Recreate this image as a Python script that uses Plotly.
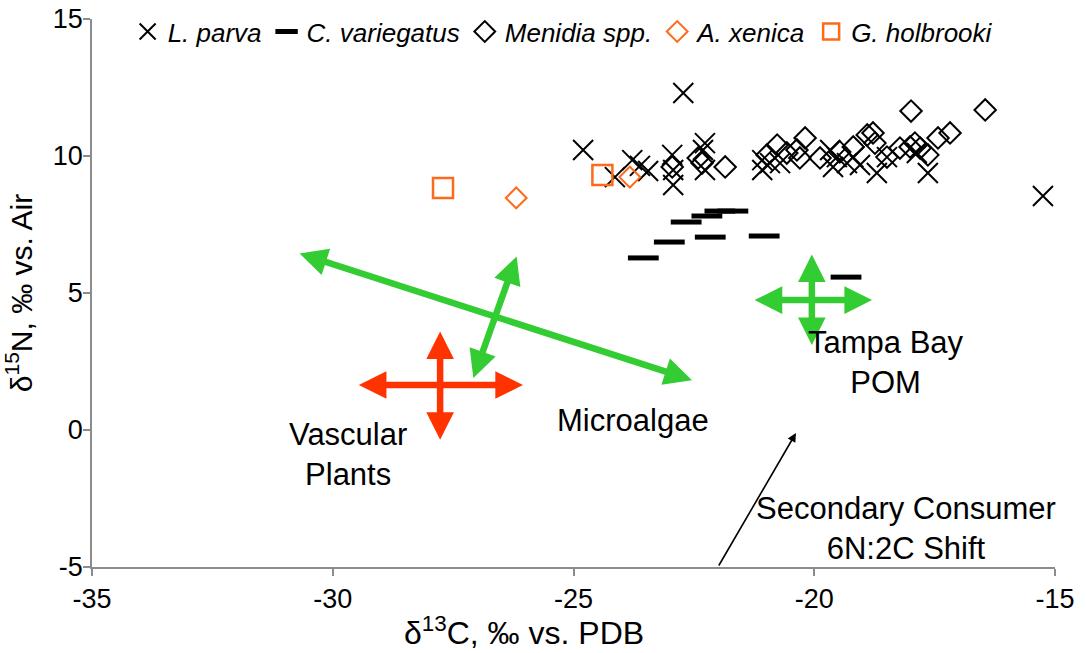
import plotly.graph_objects as go

# Stable isotope values (d13C, d15N) per taxon
parva_c = [-24.80, -22.72, -24.14, -23.78, -23.62, -23.45, -22.95, -22.93, -22.93,
           -22.27, -22.31, -22.27, -21.08, -21.08, -20.92, -20.71, -19.67, -19.53,
           -19.61, -19.32, -19.19, -19.05, -18.70, -18.49, -17.87, -17.64, -15.25]
parva_n = [10.22, 12.30, 9.23, 9.85, 9.64, 9.45, 10.04, 9.49, 8.94,
           10.47, 10.22, 9.49, 9.85, 9.49, 9.74, 9.74, 10.22, 9.96,
           9.60, 9.74, 9.96, 9.67, 9.38, 9.96, 10.11, 9.38, 8.54]

varieg_c = [-23.55, -23.01, -22.66, -22.23, -21.96, -21.69, -22.16, -21.04, -19.34]
varieg_n = [6.28, 6.86, 7.59, 7.81, 7.99, 7.99, 7.04, 7.08, 5.58]

menidia_c = [-22.95, -22.41, -22.33, -21.85, -20.98, -20.77, -20.57, -20.36, -20.19,
             -20.30, -19.88, -19.47, -19.19, -18.90, -18.78, -18.74, -18.49, -18.22,
             -18.01, -17.91, -17.80, -17.64, -17.43, -17.18, -17.99, -16.45]
menidia_n = [9.60, 9.93, 9.74, 9.60, 10.04, 10.40, 10.11, 10.22, 10.66,
             9.93, 9.93, 10.15, 10.33, 10.77, 10.84, 10.47, 9.96, 10.29,
             10.33, 10.47, 10.29, 10.04, 10.66, 10.84, 11.64, 11.68]

xenica_c = [-23.83, -26.19]
xenica_n = [9.23, 8.47]

holbrooki_c = [-27.71, -24.40]
holbrooki_n = [8.83, 9.31]

# Axis ticks
x_ticks = [-35, -30, -25, -20, -15]
x_tick_text = ["-35", "-30", "-25", "-20", "-15"]
y_ticks = [-5, 0, 5, 10, 15]
y_tick_text = ["-5", "0", "5", "10", "15"]

# Source end-member ranges drawn as double-headed arrows: (c_start, n_start, c_end, n_end)
green_ranges = [(-30.72, 6.46, -22.54, 1.82), (-26.17, 6.39, -27.08, 1.90),
                (-21.27, 4.74, -18.80, 4.74), (-20.05, 6.46, -20.05, 3.10)]
red_ranges = [(-29.49, 1.64, -26.05, 1.64), (-27.77, 3.65, -27.77, -0.36)]
shift_arrow = (-22.0, -5.0, -20.38, -0.11)

source_labels = ["Vascular<br>Plants", "Microalgae", "Tampa Bay<br>POM",
                 "Secondary Consumer<br>6N:2C Shift"]
source_label_c = [-29.68, -23.76, -18.51, -18.10]
source_label_n = [-0.91, 0.36, 2.48, -3.58]

FONT = "Liberation Sans, Arial, sans-serif"
ORANGE = "#FF6A1A"
GREEN = "#33CC33"
RED = "#FF3300"
AXIS = "#8C8C8C"

fig = go.Figure()
fig.add_trace(go.Scatter(x=parva_c, y=parva_n, mode="markers", name="L. parva",
                         marker=dict(symbol="x-thin-open", size=20, color="black",
                                     line=dict(color="black", width=2))))
fig.add_trace(go.Scatter(x=varieg_c, y=varieg_n, mode="markers", name="C. variegatus",
                         marker=dict(symbol="line-ew-open", size=22, color="black",
                                     line=dict(color="black", width=5))))
fig.add_trace(go.Scatter(x=menidia_c, y=menidia_n, mode="markers", name="Menidia spp.",
                         marker=dict(symbol="diamond-open", size=16.5, color="black",
                                     line=dict(color="black", width=2))))
fig.add_trace(go.Scatter(x=xenica_c, y=xenica_n, mode="markers", name="A. xenica",
                         marker=dict(symbol="diamond-open", size=16, color=ORANGE,
                                     line=dict(color=ORANGE, width=2))))
fig.add_trace(go.Scatter(x=holbrooki_c, y=holbrooki_n, mode="markers", name="G. holbrooki",
                         marker=dict(symbol="square-open", size=20, color=ORANGE,
                                     line=dict(color=ORANGE, width=2.5))))

annotations = []


def double_arrow(seg, color):
    c0, n0, c1, n1 = seg
    return dict(x=c1, y=n1, ax=c0, ay=n0, xref="x", yref="y", axref="x", ayref="y",
                text="", showarrow=True, arrowside="end+start", arrowhead=2,
                startarrowhead=2, arrowsize=0.85, startarrowsize=0.85,
                arrowwidth=6.5, arrowcolor=color, standoff=0, startstandoff=0)


for seg in green_ranges:
    annotations.append(double_arrow(seg, GREEN))
for seg in red_ranges:
    annotations.append(double_arrow(seg, RED))

c0, n0, c1, n1 = shift_arrow
annotations.append(dict(x=c1, y=n1, ax=c0, ay=n0, xref="x", yref="y", axref="x",
                        ayref="y", text="", showarrow=True, arrowhead=2,
                        arrowsize=1.1, arrowwidth=1.6, arrowcolor="black",
                        standoff=0, startstandoff=0))

for txt, c, n in zip(source_labels, source_label_c, source_label_n):
    annotations.append(dict(x=c, y=n, xref="x", yref="y", text=txt, showarrow=False,
                            align="center", font=dict(family=FONT, size=31, color="black")))

# x-axis title placed under the axis
annotations.append(dict(x=(524 - 92) / 963, y=-(631 - 567) / 548, xref="paper",
                        yref="paper", text="\u03b4<sup>13</sup>C, \u2030 vs. PDB",
                        showarrow=False, yanchor="middle",
                        font=dict(family=FONT, size=32, color="black")))

fig.update_layout(
    width=1086, height=653,
    margin=dict(l=92, r=31, t=19, b=86, autoexpand=False),
    paper_bgcolor="white", plot_bgcolor="white",
    font=dict(family=FONT, size=27, color="black"),
    showlegend=True,
    legend=dict(orientation="h", x=0.037, xanchor="left", y=0.977, yanchor="middle",
                font=dict(family=FONT, size=26, style="italic", color="black"),
                bgcolor="rgba(0,0,0,0)", itemwidth=30, tracegroupgap=0),
    annotations=annotations,
)

fig.update_xaxes(range=[-35, -15], tickvals=x_ticks, ticktext=x_tick_text,
                 showgrid=False, zeroline=False,
                 showline=True, linecolor=AXIS, linewidth=1.5, ticks="outside",
                 ticklen=7, tickcolor=AXIS, tickwidth=1.5,
                 tickfont=dict(family=FONT, size=27, color="black"))
fig.update_yaxes(range=[-5, 15], tickvals=y_ticks, ticktext=y_tick_text,
                 showgrid=False, zeroline=False,
                 showline=True, linecolor=AXIS, linewidth=1.5, ticks="outside",
                 ticklen=7, tickcolor=AXIS, tickwidth=1.5, ticklabelstandoff=-5,
                 tickfont=dict(family=FONT, size=27, color="black"),
                 title=dict(text="\u03b4<sup>15</sup>N, \u2030 vs. Air",
                            font=dict(family=FONT, size=30, color="black"), standoff=12))

fig.write_html("out.html")
